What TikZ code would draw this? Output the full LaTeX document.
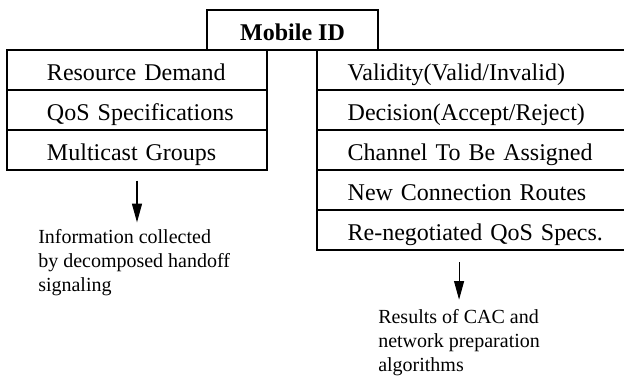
\documentclass[tikz,border=0pt]{standalone}
\usepackage{fontspec}
\setmainfont{Liberation Serif}
\usepackage{tikz}
\usetikzlibrary{positioning,arrows.meta}

\begin{document}
\begin{tikzpicture}[x=0.75pt,y=-0.75pt,
  box/.style={draw,line width=0.8pt,outer sep=0pt,inner sep=0pt,minimum height=30pt,text height=23pt,text depth=7pt,font=\fontsize{18}{21}\selectfont},
  leftrow/.style={box,text width=195pt,align=left,execute at begin node=\hspace*{30pt}},
  rightrow/.style={box,text width=240pt,align=left,execute at begin node=\hspace*{23pt}},
  note/.style={inner sep=0pt,align=left,font=\fontsize{15}{18}\selectfont},
  down/.style={-{Triangle[length=14pt,width=7.5pt]},line width=0.8pt}]

\useasboundingbox (0,0) rectangle (624,376);
\clip (0,0) rectangle (624,376);

\node [box,minimum width=128.25pt,text height=22.5pt,text depth=7.5pt,anchor=north west,font=\fontsize{18}{21}\selectfont\bfseries] (mid) at (207,10) {Mobile ID};

\node [leftrow,anchor=north west] (res) at (7,50) {Resource Demand};
\node [leftrow,below=0pt of res] (qos) {QoS Specifications};
\node [leftrow,below=0pt of qos] (mcast) {Multicast Groups};

\node [rightrow,anchor=north west] (valid) at (317,50) {Validity(Valid/Invalid)};
\node [rightrow,below=0pt of valid] (decide) {Decision(Accept/Reject)};
\node [rightrow,below=0pt of decide] (chan) {Channel To Be Assigned};
\node [rightrow,below=0pt of chan] (routes) {New Connection Routes};
\node [rightrow,below=0pt of routes] (reneg) {Re-negotiated QoS Specs.};

\node [note,anchor=north west] (info) at (38,229) {Information collected\\by decomposed handoff\\signaling};
\node [note,anchor=north west] (results) at (378,309) {Results of CAC and\\network preparation\\algorithms};


\draw [down,shorten <=8pt,shorten >=5pt] (mcast.south) -- (info.north -| mcast.south);

\draw [down,shorten <=9pt,shorten >=7pt] (results.north |- reneg.south) -- (results.north);

\end{tikzpicture}
\end{document}
